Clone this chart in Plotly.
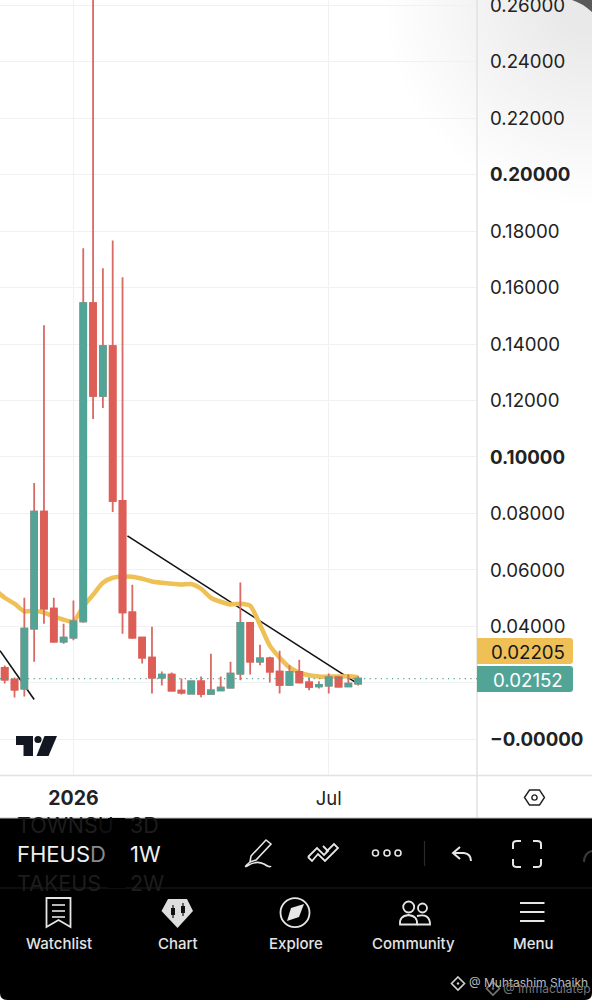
import re
import plotly.graph_objects as go

# ---------- data ----------
dates = ["2025-11-17","2025-11-24","2025-12-01","2025-12-08","2025-12-15","2025-12-22","2025-12-29",
         "2026-01-05","2026-01-12","2026-01-19","2026-01-26","2026-02-02","2026-02-09","2026-02-16",
         "2026-02-23","2026-03-02","2026-03-09","2026-03-16","2026-03-23","2026-03-30","2026-04-06",
         "2026-04-13","2026-04-20","2026-04-27","2026-05-04","2026-05-11","2026-05-18","2026-05-25",
         "2026-06-01","2026-06-08","2026-06-15","2026-06-22","2026-06-29","2026-07-06","2026-07-13",
         "2026-07-20","2026-07-27"]
opens = [.02534,.02120,.01802,.03922,.08067,.04629,.03463,.03604,.04180,.15442,.12166,.13922,.08445,
         .04498,.03604,.02898,.02191,.02297,.01731,.01625,.02060,.01615,.01742,.01837,.02332,.04124,
         .02756,.02873,.02403,.01933,.02392,.02025,.01883,.01908,.02201,.01883,.01979]
closes = [.02120,.01767,.03922,.08067,.04629,.03463,.03604,.04180,.15442,.12166,.13922,.08445,.04498,
          .03604,.02898,.02191,.02297,.01731,.01661,.02060,.01615,.01742,.01837,.02332,.04124,.02756,
          .02873,.02403,.01933,.02392,.02025,.01862,.01933,.02201,.01873,.01979,.02152]
highs = [.02615,.02191,.05018,.09081,.14664,.05018,.04099,.04922,.17385,.27000,.16679,.17668,.16360,
         .05477,.03640,.03993,.02403,.02367,.02155,.02085,.02226,.03039,.02226,.02756,.05558,.04124,
         .03357,.02933,.03145,.02625,.02827,.02191,.02060,.02332,.02237,.02297,.02237]
lows = [.01979,.01484,.01519,.02756,.04099,.03428,.03392,.03509,.04134,.11343,.11731,.08057,.03746,
        .03569,.02686,.01625,.01908,.01696,.01590,.01608,.01495,.01590,.01721,.01802,.02095,.02297,
        .02625,.02014,.01625,.01919,.01979,.01742,.01802,.01625,.01838,.01873,.01908]
ma_dates = ["2025-11-10"] + dates
ma_values = [.05300,.05018,.04806,.04534,.04558,.04488,.04357,.04240,.04180,.04710,.05124,.05548,.05725,
             .05770,.05760,.05689,.05594,.05548,.05512,.05488,.05502,.05336,.05018,.04876,.04781,.04806,
             .04735,.04064,.03322,.02898,.02555,.02367,.02272,.02226,.02226,.02226,.02237,.02205]
trend1_x = ["2026-02-12 12:00","2026-07-26"]
trend1_y = [.07208,.01996]
trend2_x = ["2025-11-13 15:36","2025-12-08"]
trend2_y = [.03145,.01413]
y_ticks = [0,.02,.04,.06,.08,.10,.12,.14,.16,.18,.20,.22,.24,.26]
y_labels = ["<b>\u22120.00000</b>","","0.04000","0.06000","0.08000","<b>0.10000</b>","0.12000","0.14000","0.16000",
            "0.18000","<b>0.20000</b>","0.22000","0.24000",""]
top_label = "0.26000"
x_ticks = ["2026-01-05","2026-07-06"]
x_labels = ["<span style='font-size:19.5px'><b>2026</b></span>","Jul"]
ma_last, price_last = "0.02205", "0.02152"

GREEN, RED, YELLOW, WICK = "#52a497", "#dd5e57", "#eec055", "#d96a64"
W, H = 592, 1000
FONT = "Inter"
RANGE_X = ["2025-11-13 15:36", "2026-10-19 17:00"]
RANGE_Y = [-0.01257, 0.26177]

def px(x): return x / W
def py(y): return 1 - y / H

def P(s):
    toks = re.findall(r"[MLCQZ]|-?\d+\.?\d*", s)
    out, isx = [], True
    for t in toks:
        if t.isalpha():
            out.append(t); isx = True
        else:
            out.append(f"{px(float(t)):.5f}" if isx else f"{py(float(t)):.5f}")
            isx = not isx
    return " ".join(out)

shapes, ann = [], []
def path(s, fill=None, line=None, w=2, layer="above"):
    shapes.append(dict(type="path", xref="paper", yref="paper", path=P(s), layer=layer,
                       fillcolor=fill or "rgba(0,0,0,0)", line=dict(color=line or "rgba(0,0,0,0)", width=w if line else 0)))
def rect(x0, y0, x1, y1, fill, layer="above"):
    shapes.append(dict(type="rect", xref="paper", yref="paper", x0=px(x0), x1=px(x1), y0=py(y0), y1=py(y1),
                       fillcolor=fill, line=dict(width=0), layer=layer))
def circ(cx, cy, r, fill=None, line=None, w=2, layer="above", opacity=1):
    shapes.append(dict(type="circle", xref="paper", yref="paper", x0=px(cx-r), x1=px(cx+r), y0=py(cy-r), y1=py(cy+r),
                       fillcolor=fill or "rgba(0,0,0,0)", line=dict(color=line or "rgba(0,0,0,0)", width=w if line else 0),
                       layer=layer, opacity=opacity))
def hline(x0, y, x1, color, w=1.2):
    path(f"M {x0} {y} L {x1} {y}", line=color, w=w)
def T(x, y, s, size, color, anchor="left", font=FONT, weight=None):
    f = dict(size=size, color=color, family=font)
    if weight: f["weight"] = weight
    ann.append(dict(xref="paper", yref="paper", x=px(x), y=py(y), text=s, showarrow=False, xanchor=anchor, yanchor="middle",
                    font=f, borderpad=0, borderwidth=0))

# glare at top right
for r in range(205, 30, -8):
    circ(592, 0, r, fill="#606060", layer="below", opacity=0.007)
path("M 572 0 Q 582 3 592 12 L 592 0 Z", fill="#5a5a5a")

# frame lines
path("M 477 0 L 477 818", line="#e2e2e2", w=1.5)
path("M 0 775.5 L 592 775.5", line="#e2e2e2", w=1.5)

# top scale label, cut by the window edge
T(490, 5, top_label, 18.7, "#222222")

# TradingView mark
path("M 16 736 L 33 736 L 33 756 L 23.5 756 L 23.5 745 L 16 745 Z", fill="#131722")
circ(38, 739.5, 3.6, fill="#131722")
path("M 44.5 736 L 57 736 L 48.5 756 L 36.5 756 Z", fill="#131722")

# scale settings hexagon
path("M 524.5 797.5 L 529.5 790 L 539.5 790 L 544.5 797.5 L 539.5 805 L 529.5 805 Z", line="#222222", w=1.4)
circ(534.5, 797.5, 2.6, line="#222222", w=1.4)

# price labels
def label(y0, y1, fill):
    path(f"M 477 {y0} L 570 {y0} Q 573 {y0} 573 {y0+3} L 573 {y1-3} Q 573 {y1} 570 {y1} L 477 {y1} Z", fill=fill)
label(638, 664, YELLOW)
label(666, 692, GREEN)
T(527.5, 652, ma_last, 18.7, "#131722", "center")
T(527.5, 680, price_last, 18.7, "#ffffff", "center")

# bottom panel
rect(0, 818, 592, 1000, "#000000")
path("M 0 818 L 592 818", line="#bdbdbd", w=1)
path("M 0 888 L 592 888", line="#1c1c1c", w=1)
DIM = "#1d1d1d"
T(17, 825, "TOWNS<span style='color:#101010'>U</span>", 21.5, DIM)
T(130, 825, "3D", 21.5, DIM)
T(17, 883, "TAKEUS", 21.5, DIM)
T(130, 883, "2W", 21.5, DIM)
rect(108, 818, 125, 888, "#000000")
T(17, 854, "FHEUS<span style='color:#8a8a8a'>D</span>", 22, "#efefef")
T(130, 854, "1W", 22, "#efefef")

WHITE = "#e6e6e6"
# pen
path("M 266 840 L 271 844 L 256 860 L 250 862 L 251 856 Z", line=WHITE, w=1.6)
path("M 250 862 Q 243 868 247 866 Q 256 860 264 864 Q 270 868 271 866", line=WHITE, w=1.6)
# zigzag tool
path("M 308 857 L 317 848 L 324 855 L 328 851 L 323 846", line=WHITE, w=1.8)
path("M 308 857 L 312 861 L 318 854 L 325 861 L 338 848 L 334 844 L 326 852", line=WHITE, w=1.8)
# dots
for cx in (375.5, 387, 398):
    circ(cx, 853, 3, line=WHITE, w=1.6)
path("M 424.5 841 L 424.5 866", line="#2a2a2a", w=1.2)
# undo
path("M 460 847 L 453 853 L 460 859", line=WHITE, w=2)
path("M 453 853 L 464 853 Q 471 854 471 861", line=WHITE, w=2)
# fullscreen
for s in ("M 513 849 L 513 844 Q 513 841 517 841 L 521 841", "M 533 841 L 537 841 Q 541 841 541 844 L 541 849",
          "M 541 859 L 541 864 Q 541 867 537 867 L 533 867", "M 521 867 L 517 867 Q 513 867 513 864 L 513 859"):
    path(s, line=WHITE, w=2)
path("M 584 862 Q 584 853 592 851", line="#3a3a3a", w=2)

# nav icons
path("M 46.5 898 L 70.5 898 L 70.5 927 L 58.5 920 L 46.5 927 Z", line=WHITE, w=1.8)
for yy in (905, 911, 917):
    hline(52, yy, 65, WHITE, 1.6)
path("M 168 899 L 187 899 L 193 911 L 177.5 928 L 161.5 911 Z", fill="#dedede")
for xx, y0, y1 in ((173, 908, 915), (183, 906, 913)):
    rect(xx-2, y0, xx+2, y1, "#111111")
    path(f"M {xx} {y0-3} L {xx} {y1+3}", line="#111111", w=1.2)
circ(295, 912.7, 14.5, line=WHITE, w=1.8)
path("M 304 904 L 299 917 L 287 921 L 291 908 Z", fill=WHITE)
circ(408.7, 907, 5.5, line=WHITE, w=1.8)
circ(422.5, 908, 4.5, line=WHITE, w=1.8)
path("M 400 924.5 Q 399 916 408.5 915 Q 418 916 417 924.5 Z", line=WHITE, w=1.8)
path("M 417 916 Q 430 913 430 924.5 L 417 924.5", line=WHITE, w=1.8)
for yy in (903, 912, 921):
    hline(520, yy, 544.5, WHITE, 2)
for x, s in ((58.5, "Watchlist"), (177.5, "Chart"), (295.5, "Explore"), (413.8, "Community"), (533, "Menu")):
    T(x, 943.5, s, 15, "#e4e4e4", "center", weight=500)

# watermark
path("M 458 977 L 464.5 983.5 L 458 990 L 451.5 983.5 Z", line="#d0d0d0", w=1.6)
circ(458, 983.5, 1.2, fill="#d0d0d0")
path("M 493 982 L 499.5 988.5 L 493 995 L 486.5 988.5 Z", line="#777777", w=1.6)
circ(493, 988.5, 1.2, fill="#777777")
T(469, 982.5, "@ Muhtashim Shaikh", 12, "#bcbcbc")
T(503, 988, "@ Immaculatep", 12, "#777777")

# rounded panel corners at the very bottom
path("M 0 993 Q 0 1000 7 1000 L 0 1000 Z", fill="#ffffff")
path("M 592 993 Q 592 1000 585 1000 L 592 1000 Z", fill="#ffffff")

# last price dotted line
shapes.append(dict(type="line", xref="paper", yref="y", x0=0, x1=px(477), y0=float(price_last), y1=float(price_last),
                   line=dict(color=GREEN, width=1.2, dash="1.2px,4.4px"), layer="above"))

body_high = [max(o, c) for o, c in zip(opens, closes)]
body_low = [min(o, c) for o, c in zip(opens, closes)]

fig = go.Figure()
for xs, ys in ((trend1_x, trend1_y), (trend2_x, trend2_y)):
    fig.add_trace(go.Scatter(x=xs, y=ys, mode="lines", line=dict(color="#111111", width=1.6), hoverinfo="skip",
                             showlegend=False, xaxis="x", yaxis="y"))
fig.add_trace(go.Scatter(x=ma_dates, y=ma_values, mode="lines", line=dict(color=YELLOW, width=4.5, shape="spline", smoothing=0.6),
                         hoverinfo="skip", showlegend=False, xaxis="x", yaxis="y"))
fig.add_trace(go.Candlestick(x=dates, open=opens, close=closes, high=highs, low=lows, whiskerwidth=0,
                             increasing=dict(line=dict(color=WICK, width=1.8), fillcolor=WICK),
                             decreasing=dict(line=dict(color=WICK, width=1.8), fillcolor=WICK),
                             showlegend=False, xaxis="x2", yaxis="y2"))
fig.add_trace(go.Candlestick(x=dates, open=opens, close=closes, high=body_high, low=body_low, whiskerwidth=0,
                             increasing=dict(line=dict(color=GREEN, width=1.8), fillcolor=GREEN),
                             decreasing=dict(line=dict(color=RED, width=1.8), fillcolor=RED),
                             showlegend=False, xaxis="x2", yaxis="y2"))

dom_x = [0, 477 / W]
dom_y = [225 / H, 1]
fig.update_layout(
    width=W, height=H, margin=dict(l=0, r=0, t=0, b=0), paper_bgcolor="#ffffff", plot_bgcolor="rgba(0,0,0,0)",
    showlegend=False, boxgap=0.4, boxgroupgap=0, hovermode=False, font=dict(family=FONT),
    xaxis=dict(type="date", domain=dom_x, range=RANGE_X, tickmode="array", tickvals=x_ticks, ticktext=x_labels,
               showgrid=True, gridcolor="#f1f1f1", gridwidth=1, zeroline=False, showline=False, ticks="",
               tickfont=dict(size=18.5, color="#222222", family=FONT), ticklabelstandoff=10, rangeslider=dict(visible=False)),
    yaxis=dict(domain=dom_y, range=RANGE_Y, side="right", tickmode="array", tickvals=y_ticks, ticktext=y_labels,
               showgrid=True, gridcolor="#f1f1f1", gridwidth=1, zeroline=False, showline=False, ticks="",
               tickfont=dict(size=18.7, color="#222222", family=FONT), ticklabelstandoff=12),
    xaxis2=dict(type="date", overlaying="x", range=RANGE_X, visible=False, rangeslider=dict(visible=False)),
    yaxis2=dict(overlaying="y", range=RANGE_Y, visible=False),
    shapes=shapes, annotations=ann,
)
fig.write_html("out.html", post_script="document.body.style.margin='0';", config=dict(displayModeBar=False))
